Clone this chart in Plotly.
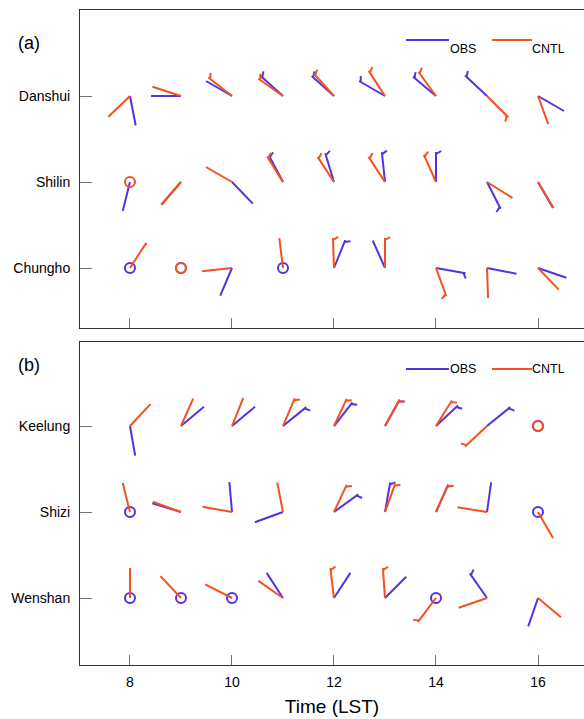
import math
import plotly.graph_objects as go

# ---------------- data ----------------
hours = [8, 9, 10, 11, 12, 13, 14, 15, 16]
stations_a = ["Danshui", "Shilin", "Chungho"]
stations_b = ["Keelung", "Shizi", "Wenshan"]
x_ticks = [8, 10, 12, 14, 16]

# wind direction (deg, from north, clockwise); None = calm
# barb: 1 = half barb drawn, 0 = none
danshui_obs_dir = [169, 270, 300, 312, 312, 300, 310, 313, 120]
danshui_obs_barb = [0, 0, 0, 1, 1, 1, 1, 1, 0]
danshui_cntl_dir = [226, 288, 308, 305, 318, 327, 324, 135, 160]
danshui_cntl_barb = [0, 0, 1, 1, 1, 1, 1, 1, 0]

shilin_obs_dir = [194, 221, 136, 332, 343, 354, 0, 153, 150]
shilin_obs_barb = [0, 0, 0, 1, 1, 1, 1, 1, 0]
shilin_cntl_dir = [None, 220, 300, 328, 327, 327, 336, 122, 149]
shilin_cntl_barb = [0, 0, 0, 1, 1, 1, 1, 0, 0]

chungho_obs_dir = [None, None, 203, None, 22, 336, 100, 101, 109]
chungho_obs_barb = [0, 0, 0, 0, 1, 0, 1, 0, 0]
chungho_cntl_dir = [33, None, 264, 353, 358, 0, 160, 178, 136]
chungho_cntl_barb = [0, 0, 0, 0, 1, 1, 1, 0, 0]

keelung_obs_dir = [170, 50, 50, 51, 38, 29, 47, 51, None]
keelung_obs_barb = [0, 0, 0, 1, 1, 1, 1, 1, 0]
keelung_cntl_dir = [43, 24, 22, 23, 25, 29, 32, 227, None]
keelung_cntl_barb = [0, 0, 0, 1, 1, 1, 1, 1, 0]

shizi_obs_dir = [None, 287, 355, 250, 54, 10, 24, 8, None]
shizi_obs_barb = [0, 0, 0, 0, 1, 1, 1, 0, 0]
shizi_cntl_dir = [346, 290, 280, 349, 25, 20, 24, 279, 150]
shizi_cntl_barb = [0, 0, 0, 0, 1, 1, 1, 0, 0]

wenshan_obs_dir = [None, None, None, 327, 33, 45, None, 325, 199]
wenshan_obs_barb = [0, 0, 0, 0, 0, 0, 0, 1, 0]
wenshan_cntl_dir = [0, 317, 297, 305, 353, 356, 217, 251, 130]
wenshan_cntl_barb = [0, 0, 0, 0, 1, 1, 1, 0, 0]

# ---------------- layout constants ----------------
W, H = 584, 719
ML, MR, MT, MB = 80, 0, 10, 54
X_RANGE = [7.02, 16.902]
YA_RANGE = [0.3023, 4.0]
YB_RANGE = [0.221, 3.977]
DOM_A = [0.5145, 1.0]
DOM_B = [0.0, 0.4931]
OBS_COLOR = "#5630e6"
CNTL_COLOR = "#f4511e"
FONT = "Liberation Sans, Arial, sans-serif"
SHAFT = 30.0   # px
BARB = 6.0     # px

plot_w = W - ML - MR
plot_h = H - MT - MB
sx = plot_w / (X_RANGE[1] - X_RANGE[0])
sy_a = plot_h * (DOM_A[1] - DOM_A[0]) / (YA_RANGE[1] - YA_RANGE[0])
sy_b = plot_h * (DOM_B[1] - DOM_B[0]) / (YB_RANGE[1] - YB_RANGE[0])


def build(dirs, barbs, yval, sy):
    lx, ly, cx, cy = [], [], [], []
    for h, d, b in zip(hours, dirs, barbs):
        if d is None:
            cx.append(h)
            cy.append(yval)
            continue
        t = math.radians(d)
        tx = h + SHAFT * math.sin(t) / sx
        ty = yval + SHAFT * math.cos(t) / sy
        lx += [h, tx, None]
        ly += [yval, ty, None]
        if b:
            jx = h + (SHAFT - 2) * math.sin(t) / sx
            jy = yval + (SHAFT - 2) * math.cos(t) / sy
            tb = math.radians(d + 60)
            lx += [jx, jx + BARB * math.sin(tb) / sx, None]
            ly += [jy, jy + BARB * math.cos(tb) / sy, None]
    return lx, ly, cx, cy


panel_a = [
    (danshui_obs_dir, danshui_obs_barb, danshui_cntl_dir, danshui_cntl_barb, 3),
    (shilin_obs_dir, shilin_obs_barb, shilin_cntl_dir, shilin_cntl_barb, 2),
    (chungho_obs_dir, chungho_obs_barb, chungho_cntl_dir, chungho_cntl_barb, 1),
]
panel_b = [
    (keelung_obs_dir, keelung_obs_barb, keelung_cntl_dir, keelung_cntl_barb, 3),
    (shizi_obs_dir, shizi_obs_barb, shizi_cntl_dir, shizi_cntl_barb, 2),
    (wenshan_obs_dir, wenshan_obs_barb, wenshan_cntl_dir, wenshan_cntl_barb, 1),
]

fig = go.Figure()

for rows, xa, ya, sy in [(panel_a, "x", "y", sy_a), (panel_b, "x2", "y2", sy_b)]:
    for which, color in [(0, OBS_COLOR), (2, CNTL_COLOR)]:
        LX, LY, CX, CY = [], [], [], []
        for r in rows:
            lx, ly, cx, cy = build(r[which], r[which + 1], r[4], sy)
            LX += lx; LY += ly; CX += cx; CY += cy
        fig.add_trace(go.Scatter(x=LX, y=LY, mode="lines", xaxis=xa, yaxis=ya,
                                 line=dict(color=color, width=2), hoverinfo="skip",
                                 showlegend=False))
        fig.add_trace(go.Scatter(x=CX, y=CY, mode="markers", xaxis=xa, yaxis=ya,
                                 marker=dict(symbol="circle-open", size=10, color=color,
                                             line=dict(color=color, width=2)),
                                 hoverinfo="skip", showlegend=False))

axis_common = dict(showgrid=False, zeroline=False, showline=True, linecolor="#333",
                   linewidth=1, ticks="inside", tickcolor="#777", fixedrange=True)

fig.update_layout(
    width=W, height=H,
    margin=dict(l=ML, r=MR, t=MT, b=MB),
    paper_bgcolor="white", plot_bgcolor="white",
    font=dict(family=FONT, color="black"),
    xaxis=dict(domain=[0, 1], anchor="y", range=X_RANGE, tickvals=x_ticks,
               showticklabels=False, ticklen=10, mirror=True, **axis_common),
    xaxis2=dict(domain=[0, 1], anchor="y2", range=X_RANGE, tickvals=x_ticks,
                ticklen=10, mirror=True, tickfont=dict(size=14), ticklabelstandoff=4,
                title=dict(text="Time (LST)", font=dict(size=19), standoff=10),
                **axis_common),
    yaxis=dict(domain=DOM_A, anchor="x", range=YA_RANGE, tickvals=[3, 2, 1],
               ticktext=stations_a, ticklen=12, tickfont=dict(size=14),
               ticklabelstandoff=6, **axis_common),
    yaxis2=dict(domain=DOM_B, anchor="x2", range=YB_RANGE, tickvals=[3, 2, 1],
                ticktext=stations_b, ticklen=12, tickfont=dict(size=14),
                ticklabelstandoff=6, **axis_common),
)


def px_x(p):
    return (p - ML) / plot_w


def px_y(p):
    return (H - MB - p) / plot_h


annotations = []
shapes = []
for ly in [40, 369]:
    shapes.append(dict(type="line", xref="paper", yref="paper",
                       x0=px_x(406), x1=px_x(449), y0=px_y(ly), y1=px_y(ly),
                       line=dict(color=OBS_COLOR, width=2)))
    shapes.append(dict(type="line", xref="paper", yref="paper",
                       x0=px_x(492), x1=px_x(532), y0=px_y(ly), y1=px_y(ly),
                       line=dict(color=CNTL_COLOR, width=2)))
    annotations.append(dict(x=px_x(448), y=px_y(ly), xref="paper", yref="paper",
                            text="OBS", showarrow=False, xanchor="left",
                            font=dict(size=12.5)))
    annotations.append(dict(x=px_x(530), y=px_y(ly), xref="paper", yref="paper",
                            text="CNTL", showarrow=False, xanchor="left",
                            font=dict(size=12.5)))
annotations.append(dict(x=px_x(16), y=px_y(31), xref="paper", yref="paper",
                        text="(a)", showarrow=False, xanchor="left", font=dict(size=18)))
annotations.append(dict(x=px_x(16), y=px_y(365), xref="paper", yref="paper",
                        text="(b)", showarrow=False, xanchor="left", font=dict(size=18)))
fig.update_layout(annotations=annotations, shapes=shapes)

fig.write_html("out.html")
